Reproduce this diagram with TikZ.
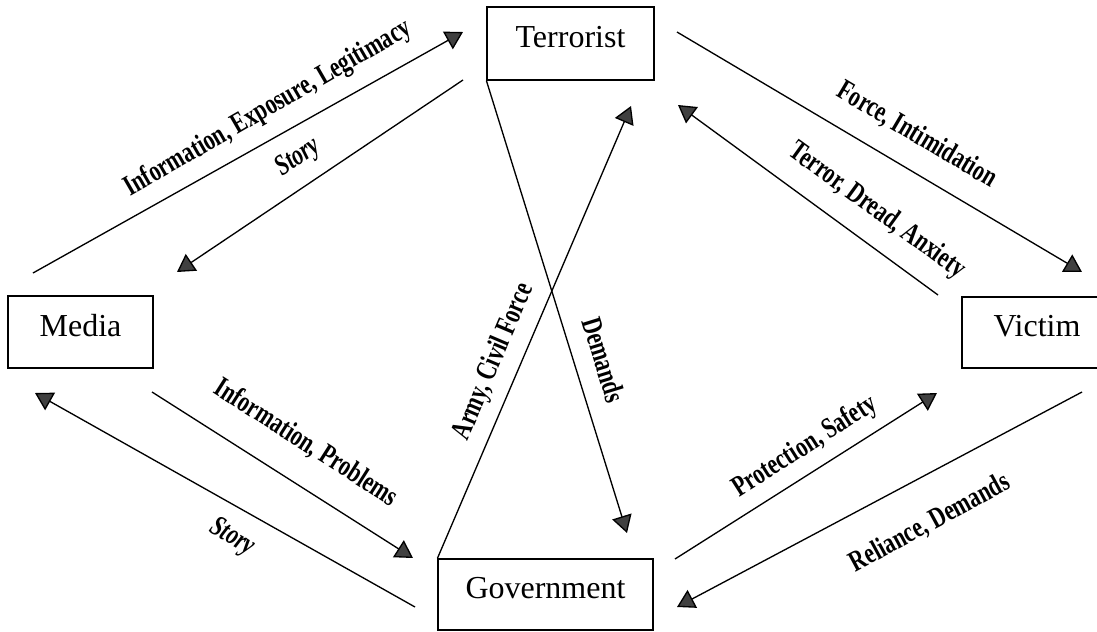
\documentclass[tikz,border=0pt]{standalone}
\usepackage{fontspec}
\setmainfont{Liberation Serif}
\newfontfamily\labfont[FakeStretch=0.74]{Liberation Serif}
\usetikzlibrary{arrows.meta}
\begin{document}
\begin{tikzpicture}[x=0.75pt,y=-0.75pt,
  box/.style={draw, line width=0.9pt, inner sep=0pt,
    font=\fontsize{24}{28}\selectfont, text height=16pt, text depth=10pt},
  conn/.style={line width=1pt, -{Triangle[length=13pt,width=15pt,fill=black!75]}},
  lab/.style={font=\labfont\bfseries\fontsize{22}{26}\selectfont, inner sep=0pt},
  labit/.style={font=\labfont\bfseries\itshape\fontsize{22}{26}\selectfont, inner sep=0pt}]
\useasboundingbox (0,0) rectangle (1097,632);
\fill[white] (0,0) rectangle (1097,632);

% boxes
\node[box, minimum width=167*0.75pt, minimum height=73*0.75pt] (ter) at (570.5,43.5) {Terrorist};
\node[box, minimum width=145*0.75pt, minimum height=72*0.75pt] (med) at (80.5,332) {Media};
\node[box, minimum width=150*0.75pt, minimum height=71*0.75pt] (vic) at (1037,332.5) {Victim};
\node[box, minimum width=215*0.75pt, minimum height=71*0.75pt] (gov) at (545.5,594.5) {Government};

% connector end points
\coordinate (c1s) at (33,273);   \coordinate (c1e) at (463,32);
\coordinate (c2s) at (463,80);   \coordinate (c2e) at (177,272);
\coordinate (c3s) at (677,32);   \coordinate (c3e) at (1082,272);
\coordinate (c4s) at (938,295);  \coordinate (c4e) at (678,105);
\coordinate (c5e) at (631,106);
\coordinate (c6e) at (627,533);
\coordinate (c7s) at (152,392);  \coordinate (c7e) at (413,558);
\coordinate (c8s) at (415,607);  \coordinate (c8e) at (35,393);
\coordinate (c9s) at (675,559);  \coordinate (c9e) at (937,393);
\coordinate (c10s) at (1082,392); \coordinate (c10e) at (677,607);

% connectors
\draw[conn] (c1s) -- (c1e);
\draw[conn] (c2s) -- (c2e);
\draw[conn] (c3s) -- (c3e);
\draw[conn] (c4s) -- (c4e);
\draw[conn] (gov.north west) -- (c5e);
\draw[conn] (ter.south west) -- (c6e);
\draw[conn] (c7s) -- (c7e);
\draw[conn] (c8s) -- (c8e);
\draw[conn] (c9s) -- (c9e);
\draw[conn] (c10s) -- (c10e);

% labels
\node[lab, rotate=30] (l1) at (268,109) {Information, Exposure, Legitimacy};
\node[labit, rotate=34] (l2) at (298,158) {Story};
\node[lab, rotate=-30.6] (l3) at (917,135) {Force, Intimidation};
\node[lab, rotate=-36] (l4) at (877,211) {Terror, Dread, Anxiety};
\node[lab, rotate=67] (l5) at (494,362) {Army, Civil Force};
\node[lab, rotate=-72.8] (l6) at (604,360) {Demands};
\node[lab, rotate=-32.5] (l7) at (306,443) {Information, Problems};
\node[labit, rotate=-30] (l8) at (232,538) {Story};
\node[lab, rotate=32.4] (l9) at (805,447) {Protection, Safety};
\node[lab, rotate=28.5] (l10) at (930,523) {Reliance, Demands};
\end{tikzpicture}
\end{document}
